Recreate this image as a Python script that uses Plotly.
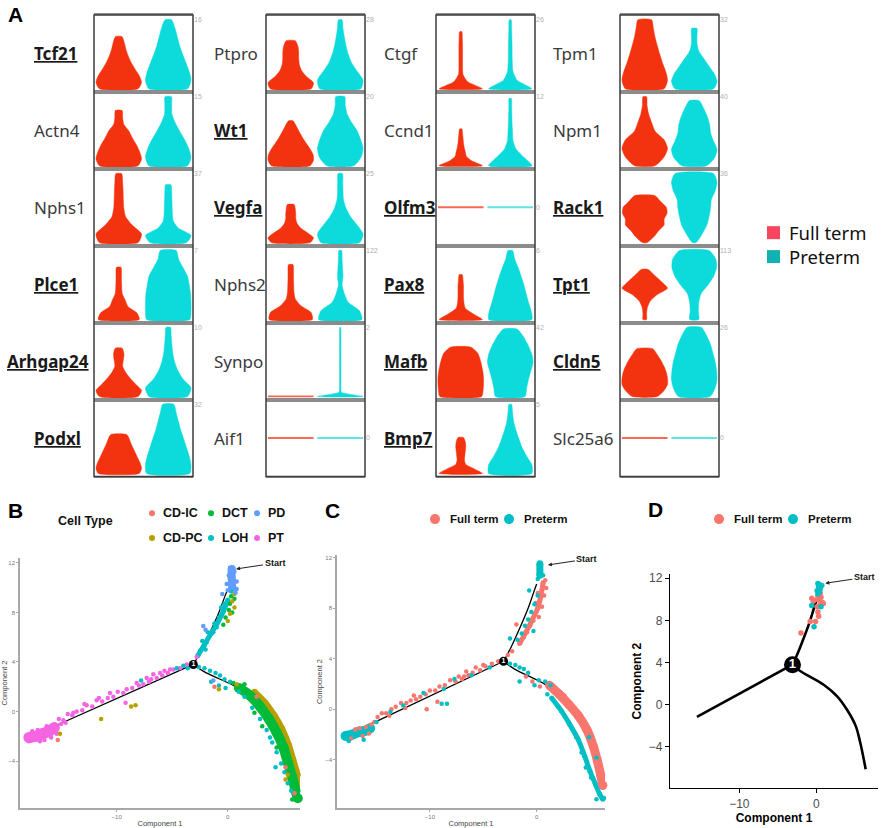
import plotly.graph_objects as go

W, H = 886, 828

# ---------------- panel A: violin plots ----------------
genes = ["Tcf21", "Actn4", "Nphs1", "Plce1", "Arhgap24", "Podxl",
         "Ptpro", "Wt1", "Vegfa", "Nphs2", "Synpo", "Aif1",
         "Ctgf", "Ccnd1", "Olfm3", "Pax8", "Mafb", "Bmp7",
         "Tpm1", "Npm1", "Rack1", "Tpt1", "Cldn5", "Slc25a6"]
marked = ["Tcf21", "Plce1", "Arhgap24", "Podxl", "Wt1", "Vegfa", "Olfm3",
          "Pax8", "Mafb", "Bmp7", "Rack1", "Tpt1", "Cldn5"]
row_max = [16, 15, 37, 7, 10, 32,
           28, 20, 25, 122, 2, 0,
           26, 12, 0, 6, 42, 5,
           32, 40, 36, 113, 26, 0]
ft_top = [12.1, 12, 37, 5.3, 7, 18,
          19.5, 13, 13.8, 97, 0, 0,
          21.5, 6.4, 0, 3.9, 30, 2.6,
          32, 40, 24.5, 82, 18, 0]
pt_top = [16, 15, 31, 7, 10, 32,
          28, 20, 25, 122, 2, 0,
          26, 11.7, 0, 6, 41, 5,
          28, 37.7, 36, 113, 26, 0]
# relative half widths, read bottom -> top at even steps of each violin's height
ft_shape = [
    [0.85, 1.0, 0.9, 0.72, 0.55, 0.42, 0.32, 0.25, 0.14],
    [0.85, 1.0, 0.92, 0.78, 0.6, 0.45, 0.22, 0.17, 0.15],
    [0.85, 1.0, 0.6, 0.3, 0.22, 0.2, 0.19, 0.17, 0.13],
    [0.9, 0.8, 0.4, 0.28, 0.15, 0.13, 0.12, 0.12, 0.1],
    [0.85, 1.0, 0.75, 0.5, 0.3, 0.17, 0.2, 0.23, 0.15],
    [0.9, 1.0, 0.95, 0.85, 0.75, 0.65, 0.55, 0.47, 0.35],
    [0.9, 1.0, 0.7, 0.48, 0.38, 0.35, 0.35, 0.32, 0.2],
    [0.85, 1.0, 0.98, 0.85, 0.68, 0.52, 0.38, 0.25, 0.1],
    [0.85, 1.0, 0.75, 0.45, 0.28, 0.22, 0.22, 0.2, 0.15],
    [0.95, 0.9, 0.45, 0.2, 0.14, 0.13, 0.12, 0.12, 0.1],
    [1.0],
    [1.0],
    [0.95, 0.3, 0.1, 0.08, 0.08, 0.08, 0.08, 0.07, 0.05],
    [0.95, 0.5, 0.25, 0.2, 0.15, 0.12, 0.1, 0.08, 0.05],
    [1.0],
    [0.95, 0.55, 0.2, 0.14, 0.12, 0.12, 0.12, 0.1, 0.07],
    [0.92, 0.98, 1.0, 1.0, 0.97, 0.92, 0.85, 0.75, 0.45],
    [0.95, 0.6, 0.22, 0.16, 0.18, 0.2, 0.22, 0.2, 0.12],
    [0.85, 1.0, 0.92, 0.78, 0.66, 0.55, 0.45, 0.38, 0.3],
    [0.45, 0.85, 1.0, 0.85, 0.45, 0.3, 0.17, 0.1, 0.08],
    [0.1, 0.4, 0.6, 0.85, 0.85, 0.98, 0.95, 0.7, 0.45],
    [0.08, 0.08, 0.12, 0.25, 0.55, 1.0, 0.75, 0.45, 0.15],
    [0.55, 0.85, 1.0, 1.0, 0.95, 0.85, 0.72, 0.55, 0.35],
    [1.0],
]
pt_shape = [
    [0.85, 1.0, 0.92, 0.78, 0.63, 0.5, 0.4, 0.3, 0.14],
    [0.85, 1.0, 0.9, 0.72, 0.5, 0.3, 0.16, 0.15, 0.14],
    [0.8, 1.0, 0.45, 0.22, 0.18, 0.17, 0.16, 0.15, 0.12],
    [0.95, 1.0, 1.0, 0.98, 0.92, 0.85, 0.65, 0.45, 0.35],
    [0.85, 1.0, 0.65, 0.42, 0.28, 0.2, 0.16, 0.13, 0.1],
    [0.95, 1.0, 0.92, 0.8, 0.68, 0.55, 0.45, 0.35, 0.25],
    [0.9, 1.0, 0.75, 0.5, 0.35, 0.25, 0.18, 0.12, 0.08],
    [0.6, 0.92, 1.0, 0.9, 0.75, 0.5, 0.3, 0.22, 0.2],
    [0.85, 1.0, 0.75, 0.45, 0.25, 0.14, 0.12, 0.11, 0.1],
    [0.95, 0.85, 0.35, 0.18, 0.08, 0.12, 0.1, 0.08, 0.06],
    [1.0, 0.05, 0.03, 0.03, 0.03, 0.03, 0.03, 0.03, 0.03,
     0.03, 0.03, 0.03, 0.03, 0.03, 0.03, 0.03, 0.02],
    [1.0],
    [0.95, 0.3, 0.12, 0.09, 0.08, 0.08, 0.07, 0.06, 0.04],
    [0.95, 0.6, 0.25, 0.12, 0.1, 0.08, 0.07, 0.06, 0.05],
    [1.0],
    [0.95, 0.92, 0.8, 0.7, 0.6, 0.48, 0.35, 0.2, 0.1],
    [0.65, 0.72, 0.8, 0.9, 1.0, 0.95, 0.8, 0.6, 0.3],
    [0.95, 0.95, 0.72, 0.52, 0.38, 0.25, 0.15, 0.1, 0.06],
    [0.85, 1.0, 0.88, 0.65, 0.42, 0.2, 0.12, 0.12, 0.12],
    [0.55, 0.9, 1.0, 0.85, 0.72, 0.68, 0.58, 0.42, 0.22],
    [0.08, 0.35, 0.55, 0.65, 0.72, 0.75, 0.92, 1.0, 0.85],
    [0.2, 0.18, 0.2, 0.3, 0.6, 0.85, 0.98, 0.95, 0.65],
    [0.7, 0.92, 1.0, 0.98, 0.92, 0.82, 0.72, 0.55, 0.32],
    [1.0],
]
groups = ["Full term", "Preterm"]

# ---------------- panels B-D: pseudotime trajectory ----------------
traj_top = [(-3.1, 3.8), (-2.7, 4.4), (-1.65, 6.3), (-0.8, 8.0), (-0.26, 9.3), (0.0, 9.9)]
traj_left = [(-3.1, 3.8), (-15.5, -1.15)]
traj_right = [(-3.1, 3.8), (-2.1, 3.2), (0.95, 1.9), (2.7, 0.8), (4.0, -0.5),
              (5.1, -2.0), (5.7, -3.6), (6.4, -6.1)]
branch_node = (-3.1, 3.8)

cell_types = ["CD-IC", "CD-PC", "DCT", "LOH", "PD", "PT"]
type_colors = ["#F8766D", "#B79F00", "#00BA38", "#00BFC4", "#619CFF", "#F564E3"]

# B: cells coloured by type (sparse cells and dense stretches)
b_pt = [(-3.7, 3.8), (-4.3, 3.5), (-4.9, 3.4), (-5.4, 3.1), (-5.7, 3.3), (-5.9, 2.9),
        (-6.1, 3.1), (-6.4, 2.7), (-6.9, 2.6), (-7.3, 2.7), (-7.6, 2.2), (-8.2, 2.3),
        (-8.6, 1.9), (-9.1, 1.8), (-9.4, 1.5), (-9.9, 1.6), (-10.3, 1.2), (-10.8, 1.1),
        (-11.3, 0.8), (-11.8, 0.9), (-12.2, 0.4), (-12.7, 0.5), (-13.1, 0.1), (-13.6, 0.0),
        (-14.0, -0.3), (-14.4, -0.2), (-14.8, -0.7), (-9.2, 0.7), (-2.8, 4.4), (-5.2, 3.4),
        (-6.7, 3.0), (-7.1, 2.4), (-8.0, 2.1), (-10.6, 1.5), (-11.6, 1.1), (-12.9, 0.6),
        (-13.9, -0.1), (-15.0, -1.0), (-15.2, -0.6), (-14.6, -0.9), (-17.6, -1.6),
        (-17.1, -1.5), (-16.5, -2.3), (-15.9, -2.1), (-15.4, -1.8), (-16.9, -2.4),
        (-16.3, -1.2), (-17.9, -2.4)]
b_pt_band = [(-17.9, -2.1), (-17.3, -2.0), (-16.7, -1.8), (-16.1, -1.6), (-15.6, -1.3)]
b_pd = [(0.0, 9.8), (0.8, 9.9), (0.7, 9.6), (-0.1, 10.3), (0.8, 10.5), (0.1, 11.0),
        (0.6, 11.3), (0.2, 11.6), (0.5, 11.6), (-2.2, 6.9), (-2.0, 6.6), (-0.5, 9.5),
        (-1.3, 2.5)]
b_pd_band = [(0.35, 11.5), (0.35, 10.8), (0.4, 10.0)]
b_loh = [(-2.5, 4.9), (-2.3, 5.7), (-1.9, 5.6), (-1.8, 6.4), (-1.3, 6.4), (-1.2, 7.1),
         (-0.8, 7.6), (-0.6, 8.4), (-0.3, 8.7), (-2.0, 5.0), (-1.0, 6.8), (0.3, 9.7),
         (-2.6, 3.6), (-2.1, 3.5), (-1.6, 3.3), (-1.1, 3.1), (-0.7, 2.9), (-0.3, 2.6),
         (0.2, 2.4), (-1.5, 2.4), (-0.8, 2.1), (-0.2, 1.9), (-4.0, 3.7), (-4.6, 3.5),
         (-3.6, 3.5), (1.5, 1.2), (2.2, 0.3), (2.9, -0.6), (3.5, -1.5), (4.0, -2.5),
         (4.4, -3.3), (4.8, -4.2), (5.1, -4.9), (5.4, -5.8), (5.7, -6.4), (4.3, -4.5),
         (3.8, -2.1), (1.0, 1.6), (-7.8, 2.5)]
b_loh_band = [(-2.7, 4.5), (-2.1, 5.4), (-1.5, 6.3), (-0.9, 7.2), (-0.4, 8.1), (0.0, 9.0)]
b_dct = [(0.3, 9.3), (0.2, 8.7), (0.1, 8.2), (-0.2, 7.6), (-0.4, 7.0), (0.4, 8.0),
         (0.6, 9.1), (0.5, 2.3), (1.5, 2.2), (6.5, -7.0), (6.7, -7.3), (5.8, -7.1),
         (6.9, -6.9), (3.1, -1.2), (2.4, -0.1), (4.4, -2.9)]
b_dct_band = [(1.0, 1.9), (2.0, 1.3), (2.9, 0.4), (3.7, -0.6), (4.4, -1.7), (5.0, -2.9),
              (5.4, -4.1), (5.8, -5.3), (6.1, -6.4), (6.3, -7.0)]
b_cdpc = [(0.4, 8.9), (0.2, 7.9), (0.6, 8.4), (0.0, 7.3), (0.6, 9.5), (-0.8, 1.8),
          (0.8, 2.2), (-8.7, 0.4), (-8.3, 0.5), (-11.4, -0.6), (-15.1, -1.8),
          (5.4, -5.1), (5.2, -5.5)]
b_cdpc_band = [(2.4, 1.6), (3.4, 0.7), (4.2, -0.3), (4.9, -1.4), (5.5, -2.7), (5.9, -3.9),
               (6.3, -5.1), (6.6, -6.1), (6.8, -6.8)]
b_cdic = [(-15.3, -2.3), (6.9, -7.3), (5.2, -4.5), (-1.2, 2.0), (2.6, 1.2), (6.0, -6.6)]

# C: same cells coloured by group
c_ft = [(-3.6, 3.8), (-4.2, 3.6), (-4.8, 3.4), (-5.3, 3.1), (-5.7, 3.3), (-6.0, 2.9),
        (-6.4, 2.7), (-6.8, 2.6), (-7.3, 2.6), (-7.6, 2.2), (-8.1, 2.3), (-8.6, 1.9),
        (-9.1, 1.8), (-9.5, 1.5), (-10.0, 1.5), (-10.4, 1.2), (-10.9, 1.0), (-11.3, 0.8),
        (-11.8, 0.7), (-12.2, 0.5), (-12.7, 0.5), (-13.2, 0.2), (-13.6, 0.0), (-14.1, -0.3),
        (-14.5, -0.3), (-14.9, -0.6), (-9.3, 0.6), (-10.3, 0.0), (-12.3, 0.1), (-5.0, 3.5),
        (-6.6, 3.0), (-7.0, 2.4), (-11.5, 1.1), (-13.8, -0.5), (-16.6, -1.5), (-16.0, -1.4),
        (-15.5, -1.2), (-16.3, -2.1), (-17.0, -1.6), (-15.2, -1.0), (-17.4, -2.3),
        (-15.7, -1.9), (0.6, 9.9), (0.8, 10.2), (0.5, 9.5), (0.7, 9.0), (0.3, 8.6),
        (0.5, 8.1), (0.0, 7.8), (0.2, 7.3), (-0.3, 7.0), (-0.6, 6.6), (-0.9, 6.1),
        (-1.2, 5.7), (-1.5, 5.3), (-1.9, 6.7), (-2.3, 4.6), (-2.7, 4.3), (0.9, 9.6),
        (0.1, 9.2), (-0.1, 8.4), (-0.4, 2.2), (0.3, 1.8), (-1.0, 2.6), (6.2, -6.2),
        (5.9, -5.0), (2.6, 1.1), (3.5, 0.1), (4.4, -1.2), (5.3, -3.0)]
c_ft_band_top = [(0.6, 10.0), (0.4, 9.0), (0.1, 8.0), (-0.4, 7.1), (-1.0, 6.1), (-1.6, 5.2)]
c_ft_band_right = [(1.2, 1.9), (2.1, 1.2), (3.0, 0.4), (3.9, -0.5), (4.7, -1.6), (5.3, -2.9),
                   (5.7, -4.1), (6.0, -5.2), (6.2, -6.0)]
c_pt = [(-8.7, 1.6), (-8.4, 0.45), (-8.9, 0.45), (-12.5, 0.3), (-13.7, -0.2), (-6.1, 2.7),
        (-15.0, -1.0), (-4.4, 3.3), (-10.6, 1.3), (-7.7, 2.4), (-2.5, 5.6), (-1.8, 5.5),
        (-1.4, 6.0), (-1.1, 6.6), (-0.8, 7.1), (-0.5, 7.7), (-0.2, 8.3), (-0.7, 9.4),
        (0.1, 9.0), (-0.3, 6.2), (0.1, 10.3), (0.6, 10.6), (-2.5, 3.6), (-2.0, 3.5),
        (-1.6, 3.3), (-1.2, 3.2), (-0.8, 2.9), (0.2, 2.3), (0.8, 2.2), (-0.2, 1.9),
        (-1.6, 2.2), (1.3, 1.9), (1.0, 1.2), (2.0, 0.2), (3.0, -1.0), (3.7, -2.2),
        (4.2, -3.4), (4.6, -4.6), (5.1, -5.4), (6.3, -7.0), (5.6, -7.1), (-17.6, -2.5),
        (-16.2, -2.4), (4.9, -2.2), (5.6, -3.8)]
c_pt_band_top = [(0.3, 11.5), (0.3, 10.6)]
c_pt_band_blob = [(-17.9, -2.1), (-17.3, -2.0), (-16.7, -1.8), (-16.1, -1.7), (-15.6, -1.5)]
c_pt_band_right = [(1.4, 0.9), (2.3, -0.1), (3.1, -1.2), (3.9, -2.4), (4.5, -3.7), (5.0, -4.9),
                   (5.5, -5.9), (5.9, -6.7), (6.2, -7.1)]

# D: root cells only
d_ft = [(0.3, 10.9), (0.5, 10.6), (0.2, 10.3), (0.6, 10.2), (0.1, 10.0), (0.4, 9.9),
        (0.8, 9.7), (0.5, 9.5), (0.9, 9.6), (-0.6, 10.1), (-0.4, 9.8), (0.2, 8.8),
        (0.3, 8.4), (-0.8, 7.9), (-0.1, 7.9), (-2.0, 6.8), (0.1, 9.3)]
d_pt = [(0.2, 11.5), (0.4, 11.4), (0.3, 11.2), (0.5, 11.0), (0.1, 10.8), (0.4, 10.7),
        (0.2, 10.5), (-0.6, 9.4), (0.6, 9.3), (-0.3, 7.4), (0.7, 11.3)]

start_tip = {"B": (0.65, 11.5), "C": (0.96, 11.4), "D": (1.04, 11.5)}

# ---------------- drawing ----------------
SANS = "Liberation Sans, Arial, sans-serif"
GENE_FONT = "Noto Sans, DejaVu Sans, sans-serif"
RED, CYAN = "#F3330F", "#0DDADA"
RED_FLAT, CYAN_FLAT = "#F56A50", "#5FE3E3"
GROUP_COLORS = ["#F8766D", "#00BFC4"]
KEY_COLORS = ["#F5465D", "#13B2B2"]

col_left = [94, 266, 436, 620]
col_w = 99
row_top = 12
row_h = 77.2
label_left = [32, 212, 382, 551]
half = 0.46


def px2x(px):
    return px / W


def py2y(py):
    return 1 - py / H


def violin_outline(center, top, widths):
    n = len(widths)
    ys = [top * i / (n - 1) for i in range(n)]
    right = [center + half * w for w in widths]
    left = [center - half * w for w in widths]
    return right + left[::-1] + [right[0]], ys + ys[::-1] + [ys[0]]


fig = go.Figure()
layout = {}
annotations = []
shapes = []

for g, name in enumerate(genes):
    col, row = divmod(g, 6)
    k = "" if g == 0 else str(g + 1)
    x0 = col_left[col]
    y0 = row_top + row * row_h
    m = row_max[g]
    layout["xaxis" + k] = dict(domain=[px2x(x0), px2x(x0 + col_w)], range=[-0.5, 1.5],
                               anchor="y" + k, showline=True, mirror=True,
                               linecolor="#8c8c8c", linewidth=1.5, showticklabels=False,
                               ticks="", showgrid=False, zeroline=False, fixedrange=True)
    yr = [-1, 1] if m == 0 else [-0.045 * m, 1.07 * m]
    layout["yaxis" + k] = dict(domain=[py2y(y0 + row_h), py2y(y0)], range=yr, anchor="x" + k,
                               side="right", tickvals=[m], ticktext=[str(m)], ticks="",
                               tickfont=dict(size=7, color="#b0b0b0", family=SANS),
                               showgrid=False, zeroline=False, showline=False, fixedrange=True)
    pair = [(ft_top[g], ft_shape[g], RED, RED_FLAT), (pt_top[g], pt_shape[g], CYAN, CYAN_FLAT)]
    for c, (top, widths, color, flat) in enumerate(pair):
        if top == 0:
            fig.add_trace(go.Scatter(x=[c - half, c + half], y=[0, 0], mode="lines",
                                     line=dict(color=flat, width=1.8),
                                     xaxis="x" + k, yaxis="y" + k, hoverinfo="skip"))
        else:
            vx, vy = violin_outline(c, top, widths)
            fig.add_trace(go.Scatter(x=vx, y=vy, mode="lines", fill="toself", fillcolor=color,
                                     line=dict(color=color, width=0.5, shape="spline", smoothing=0.6),
                                     xaxis="x" + k, yaxis="y" + k, hoverinfo="skip"))

    bold = name in marked
    text = f"<b><u>{name}</u></b>" if bold else name
    lx, anchor = label_left[col], "left"
    if lx + 9.0 * len(name) > x0 - 3:
        lx, anchor = x0 - 3, "right"
    annotations.append(dict(x=px2x(lx), y=py2y(y0 + row_h / 2), xref="paper", yref="paper",
                            xanchor=anchor, yanchor="middle", text=text, showarrow=False,
                            font=dict(family=GENE_FONT, size=17,
                                      color="#1a1a1a" if bold else "#3a3a3a")))

for x0 in col_left:
    shapes.append(dict(type="rect", xref="paper", yref="paper",
                       x0=px2x(x0), x1=px2x(x0 + col_w),
                       y0=py2y(row_top + 6 * row_h), y1=py2y(row_top),
                       line=dict(color="#3c3c3c", width=1.5)))

# key for panel A: one two-line label beside two swatches
key_mid = 242.5
key_step = 24
for i in range(len(groups)):
    cy = key_mid + (i - 0.5) * key_step
    shapes.append(dict(type="rect", xref="paper", yref="paper", xsizemode="pixel",
                       ysizemode="pixel", xanchor=px2x(773.5), yanchor=py2y(cy),
                       x0=-6.5, x1=6.5, y0=-6.5, y1=6.5, fillcolor=KEY_COLORS[i],
                       line=dict(width=0)))
annotations.append(dict(x=px2x(787), y=py2y(key_mid), xref="paper", yref="paper",
                        xanchor="left", yanchor="middle", align="left",
                        text="<br>".join(groups), showarrow=False,
                        font=dict(family=GENE_FONT, size=18.5, color="#111")))

# trajectory panels: axis number, pixel box, ranges
panels = {
    "B": (25, (20, 300), (557, 808), [-18.7, 6.5], [-7.8, 12.4]),
    "C": (26, (337, 605), (554, 808), [-18.7, 6.4], [-7.8, 12.2]),
    "D": (27, (670, 878), (573, 788), [-19.0, 8.0], [-7.9, 12.4]),
}

for key, (n, (xa, xb), (ya, yb), xr, yr) in panels.items():
    big = key == "D"
    line_c = "black" if big else "#a8a8a8"
    tick_font = dict(size=12 if big else 6, color="#4d4d4d" if big else "#777", family=SANS)
    title_font = dict(size=12 if big else 7.5, color="black" if big else "#444", family=SANS)
    common = dict(showline=True, linecolor=line_c, linewidth=1.4 if big else 1.5,
                  ticks="outside", ticklen=4 if big else 2, tickcolor=line_c,
                  tickfont=tick_font, showgrid=False, zeroline=False, fixedrange=True)
    t1 = "<b>Component 1</b>" if big else "Component 1"
    t2 = "<b>Component 2</b>" if big else "Component 2"
    layout[f"xaxis{n}"] = dict(domain=[px2x(xa), px2x(xb)], range=xr, anchor=f"y{n}",
                               tickvals=[-10, 0],
                               title=dict(text=t1, font=title_font, standoff=3 if big else 2),
                               **common)
    layout[f"yaxis{n}"] = dict(domain=[py2y(yb), py2y(ya)], range=yr, anchor=f"x{n}",
                               tickvals=[-4, 0, 4, 8, 12],
                               title=dict(text=t2, font=title_font, standoff=4 if big else 2),
                               **common)

    ax = dict(xaxis=f"x{n}", yaxis=f"y{n}", hoverinfo="skip", cliponaxis=False)
    tx, ty = [], []
    for branch in (traj_top, traj_left, traj_right):
        tx += [p[0] for p in branch] + [None]
        ty += [p[1] for p in branch] + [None]
    fig.add_trace(go.Scatter(x=tx, y=ty, mode="lines",
                             line=dict(color="black", width=2.6 if big else 1.3, shape="spline"),
                             **ax))

    def band(pts, color, width):
        fig.add_trace(go.Scatter(x=[p[0] for p in pts], y=[p[1] for p in pts],
                                 mode="lines+markers",
                                 line=dict(color=color, width=width, shape="spline"),
                                 marker=dict(color=color, size=width), **ax))

    def cells(pts, color, size=4.5):
        fig.add_trace(go.Scatter(x=[p[0] for p in pts], y=[p[1] for p in pts], mode="markers",
                                 marker=dict(color=color, size=size, line=dict(width=0)), **ax))

    if key == "B":
        band(b_loh_band, type_colors[3], 5)
        band(b_pt_band, type_colors[5], 11)
        band(b_cdpc_band, type_colors[1], 6)
        band(b_dct_band, type_colors[2], 10)
        band(b_pd_band, type_colors[4], 8)
        cells(b_pt, type_colors[5])
        cells(b_loh, type_colors[3])
        cells(b_dct, type_colors[2])
        cells(b_cdpc, type_colors[1])
        cells(b_pd, type_colors[4])
        cells(b_cdic, type_colors[0])
    elif key == "C":
        band(c_pt_band_blob, GROUP_COLORS[1], 10)
        band(c_ft_band_top, GROUP_COLORS[0], 5)
        band(c_pt_band_top, GROUP_COLORS[1], 7)
        band(c_pt_band_right, GROUP_COLORS[1], 5)
        band(c_ft_band_right, GROUP_COLORS[0], 9)
        cells(c_ft, GROUP_COLORS[0])
        cells(c_pt, GROUP_COLORS[1])
    else:
        cells(d_ft, GROUP_COLORS[0], 5.5)
        cells(d_pt, GROUP_COLORS[1], 5.5)

    fig.add_trace(go.Scatter(x=[branch_node[0]], y=[branch_node[1]], mode="markers+text",
                             text=["<b>1</b>"], textposition="middle center",
                             textfont=dict(color="white", size=13 if big else 7, family=SANS),
                             marker=dict(color="black", size=17 if big else 9), **ax))

    sx, sy = start_tip[key]
    annotations.append(dict(x=sx, y=sy, xref=f"x{n}", yref=f"y{n}", text="<b>Start</b>",
                            showarrow=True, ax=40, ay=-6, arrowhead=2, arrowsize=0.8,
                            arrowwidth=1, arrowcolor="#222", standoff=1,
                            font=dict(size=9, color="#111", family=SANS)))

# key for panel B
annotations.append(dict(x=px2x(85), y=py2y(520), xref="paper", yref="paper", text="<b>Cell Type</b>",
                        xanchor="center", yanchor="middle", showarrow=False,
                        font=dict(size=12.5, color="#111", family=SANS)))
key_cols = [152, 211, 257]
key_rows = [512, 537]
for i, (ct, colr) in enumerate(zip(cell_types, type_colors)):
    cx, cy = key_cols[i // 2], key_rows[i % 2]
    shapes.append(dict(type="circle", xref="paper", yref="paper", xsizemode="pixel",
                       ysizemode="pixel", xanchor=px2x(cx), yanchor=py2y(cy),
                       x0=-3, x1=3, y0=-3, y1=3, fillcolor=colr, line=dict(width=0)))
    annotations.append(dict(x=px2x(cx + 9), y=py2y(cy), xref="paper", yref="paper",
                            xanchor="left", yanchor="middle", text=f"<b>{ct}</b>",
                            showarrow=False, font=dict(size=12.5, color="#111", family=SANS)))

# keys for panels C and D
for dots in ([435, 509], [719, 793]):
    for i, grp in enumerate(groups):
        cx, cy = dots[i], 518
        shapes.append(dict(type="circle", xref="paper", yref="paper", xsizemode="pixel",
                           ysizemode="pixel", xanchor=px2x(cx), yanchor=py2y(cy),
                           x0=-5, x1=5, y0=-5, y1=5, fillcolor=GROUP_COLORS[i],
                           line=dict(width=0)))
        annotations.append(dict(x=px2x(cx + 13), y=py2y(cy), xref="paper", yref="paper",
                                xanchor="left", yanchor="middle", text=f"<b>{grp}</b>",
                                showarrow=False, font=dict(size=11.5, color="#111", family=SANS)))

# panel letters
for letter, lx, ly in (("A", 16, 12), ("B", 15, 509), ("C", 332, 509), ("D", 655, 508)):
    annotations.append(dict(x=px2x(lx), y=py2y(ly), xref="paper", yref="paper", text=f"<b>{letter}</b>",
                            xanchor="center", yanchor="middle", showarrow=False,
                            font=dict(size=21, color="black", family=SANS)))

fig.update_layout(width=W, height=H, margin=dict(l=0, r=0, t=0, b=0), showlegend=False,
                  paper_bgcolor="white", plot_bgcolor="white",
                  annotations=annotations, shapes=shapes, **layout)

# drop the page's default body margin so the figure sits at the window's corner
fig.write_html("out.html", config={"displayModeBar": False},
               post_script="document.body.style.margin='0px';"
                           "document.body.style.overflow='hidden';")
